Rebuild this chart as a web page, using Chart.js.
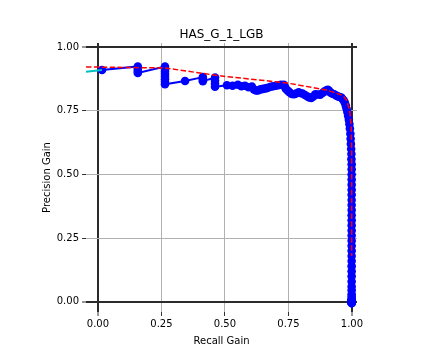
<!DOCTYPE html>
<html>
<head>
<meta charset="utf-8">
<script src="https://cdn.jsdelivr.net/npm/chart.js@4"></script>
<style>
  html, body { margin: 0; padding: 0; background: #fff; }
  #wrap { width: 432px; height: 360px; }
</style>
</head>
<body>
<div id="wrap"><canvas id="chart-prg"></canvas></div>
<script>
// Precision-recall gain curve (blue, markers)
const recallGain = [
  0.016, 0.157, 0.157, 0.157, 0.157,
  0.264, 0.264, 0.264, 0.264, 0.264, 0.264, 0.264, 0.264,
  0.343, 0.413, 0.413, 0.413, 0.461, 0.461, 0.461, 0.461,
  0.508, 0.530, 0.551, 0.565, 0.579, 0.593, 0.606, 0.614, 0.622, 0.630,
  0.640, 0.650, 0.660, 0.669, 0.680, 0.690, 0.700, 0.710, 0.720, 0.732,
  0.736, 0.740, 0.748, 0.755, 0.763, 0.772, 0.780, 0.790, 0.797, 0.805,
  0.815, 0.825, 0.832, 0.840, 0.848, 0.856, 0.865, 0.875, 0.884, 0.893,
  0.900, 0.905, 0.910, 0.915, 0.922, 0.930, 0.938, 0.945, 0.952, 0.958,
  0.963, 0.968, 0.972, 0.976, 0.979, 0.982, 0.985, 0.988, 0.990, 0.992,
  0.994, 0.995, 0.996, 0.997, 0.998, 0.998, 0.999, 0.999, 0.999, 0.999,
  0.999, 0.999, 0.999, 0.999, 0.999, 0.999, 0.999, 0.999, 0.999, 0.999,
  0.999, 0.999, 0.999, 0.999, 0.999, 0.999, 0.999, 0.999, 0.999, 0.999,
  0.999, 0.999, 0.999, 0.999, 0.999, 0.999, 0.999, 0.999, 0.999, 0.999,
  0.999, 0.999, 0.999, 0.999, 0.999, 0.999, 0.999, 0.999, 0.999, 0.999
];
const precisionGain = [
  0.910, 0.924, 0.915, 0.906, 0.898,
  0.924, 0.914, 0.904, 0.894, 0.884, 0.874, 0.864, 0.854,
  0.867, 0.882, 0.874, 0.866, 0.880, 0.868, 0.856, 0.844,
  0.850, 0.848, 0.852, 0.846, 0.848, 0.842, 0.845, 0.834, 0.830, 0.830,
  0.834, 0.836, 0.838, 0.840, 0.844, 0.846, 0.848, 0.850, 0.852, 0.852,
  0.844, 0.836, 0.828, 0.822, 0.816, 0.815, 0.818, 0.822, 0.820, 0.818,
  0.812, 0.806, 0.802, 0.800, 0.806, 0.815, 0.814, 0.813, 0.820, 0.826,
  0.830, 0.832, 0.828, 0.822, 0.818, 0.815, 0.810, 0.806, 0.804, 0.802,
  0.796, 0.790, 0.782, 0.770, 0.758, 0.745, 0.730, 0.715, 0.698, 0.680,
  0.660, 0.640, 0.620, 0.600, 0.580, 0.560, 0.540, 0.520, 0.500, 0.480,
  0.460, 0.440, 0.420, 0.400, 0.380, 0.360, 0.340, 0.320, 0.300, 0.280,
  0.260, 0.240, 0.220, 0.200, 0.180, 0.160, 0.140, 0.120, 0.100, 0.080,
  0.060, 0.045, 0.030, 0.020, 0.010, 0.005, 0.000, -0.005, 0.000, 0.010,
  0.000, -0.005, 0.000, 0.005, 0.000, -0.005, 0.000, 0.000, -0.005, 0.000
];

// Upper envelope (red dashed)
const hullRecall = [-0.047, 0.264, 0.480, 0.744, 0.902, 0.965, 0.980, 0.992, 0.997, 0.999, 0.999];
const hullPrecision = [0.922, 0.918, 0.887, 0.859, 0.831, 0.810, 0.790, 0.745, 0.690, 0.600, 0.180];

// Baseline stub (cyan)
const baseRecall = [-0.047, 0.016];
const basePrecision = [0.903, 0.910];

const tickValues = [0, 0.25, 0.5, 0.75, 1];
const chartTitle = 'HAS_G_1_LGB';

const toPoints = (xs, ys) => xs.map((x, i) => ({ x: x, y: ys[i] }));
const fontFamily = "'DejaVu Sans', sans-serif";

const gridOpts = {
  color: (ctx) => (ctx.tick && (ctx.tick.value === 0 || ctx.tick.value === 1)) ? '#2b2b2b' : '#b0b0b0',
  lineWidth: (ctx) => (ctx.tick && (ctx.tick.value === 0 || ctx.tick.value === 1)) ? 2 : 1,
  tickColor: '#333',
  tickWidth: 1,
  tickLength: 4,
};

// title centred over the axes box, like matplotlib does
const axesTitle = {
  id: 'axesTitle',
  afterDraw(chart) {
    const { ctx, chartArea } = chart;
    ctx.save();
    ctx.fillStyle = '#000';
    ctx.font = '12px ' + fontFamily;
    ctx.textAlign = 'center';
    ctx.textBaseline = 'alphabetic';
    ctx.fillText(chartTitle, (chartArea.left + chartArea.right) / 2, chartArea.top - 5);
    ctx.restore();
  }
};

new Chart(document.getElementById('chart-prg'), {
  type: 'scatter',
  data: {
    datasets: [
      {
        data: toPoints(baseRecall, basePrecision),
        showLine: true,
        borderColor: '#00bfbf',
        borderWidth: 2,
        pointRadius: 0,
        order: 1,
      },
      {
        data: toPoints(hullRecall, hullPrecision),
        showLine: true,
        borderColor: '#ff0000',
        borderWidth: 1.5,
        borderDash: [5.5, 2.4],
        pointRadius: 0,
        order: 2,
      },
      {
        data: toPoints(recallGain, precisionGain),
        showLine: true,
        borderColor: '#0000ff',
        backgroundColor: '#0000ff',
        borderWidth: 2,
        pointRadius: 4.3,
        pointBorderWidth: 0,
        order: 3,
      },
    ]
  },
  plugins: [axesTitle],
  options: {
    responsive: true,
    maintainAspectRatio: false,
    animation: false,
    layout: { padding: { left: 41, right: 75, top: 43, bottom: 13 } },
    plugins: {
      legend: { display: false },
      tooltip: { enabled: false },
      title: { display: false },
    },
    scales: {
      x: {
        type: 'linear',
        min: -0.047,
        max: 1.02,
        z: 1,
        afterBuildTicks: (axis) => { axis.ticks = tickValues.map(v => ({ value: v })); },
        afterFit: (axis) => { axis.height = 35; },
        grid: gridOpts,
        border: { display: false },
        ticks: {
          color: '#000',
          padding: 2,
          maxRotation: 0,
          font: { family: fontFamily, size: 10 },
          callback: (v) => v.toFixed(2),
        },
        title: {
          display: true,
          text: 'Recall Gain',
          color: '#000',
          padding: 0,
          font: { family: fontFamily, size: 10 },
        },
      },
      y: {
        type: 'linear',
        min: -0.04,
        max: 1.016,
        z: 1,
        afterBuildTicks: (axis) => { axis.ticks = tickValues.map(v => ({ value: v })); },
        afterFit: (axis) => { axis.width = 45; },
        grid: gridOpts,
        border: { display: false },
        ticks: {
          color: '#000',
          padding: 3,
          font: { family: fontFamily, size: 10 },
          callback: (v) => v.toFixed(2),
        },
        title: {
          display: true,
          text: 'Precision Gain',
          color: '#000',
          padding: 0,
          font: { family: fontFamily, size: 10 },
        },
      },
    },
  },
});
</script>
</body>
</html>
